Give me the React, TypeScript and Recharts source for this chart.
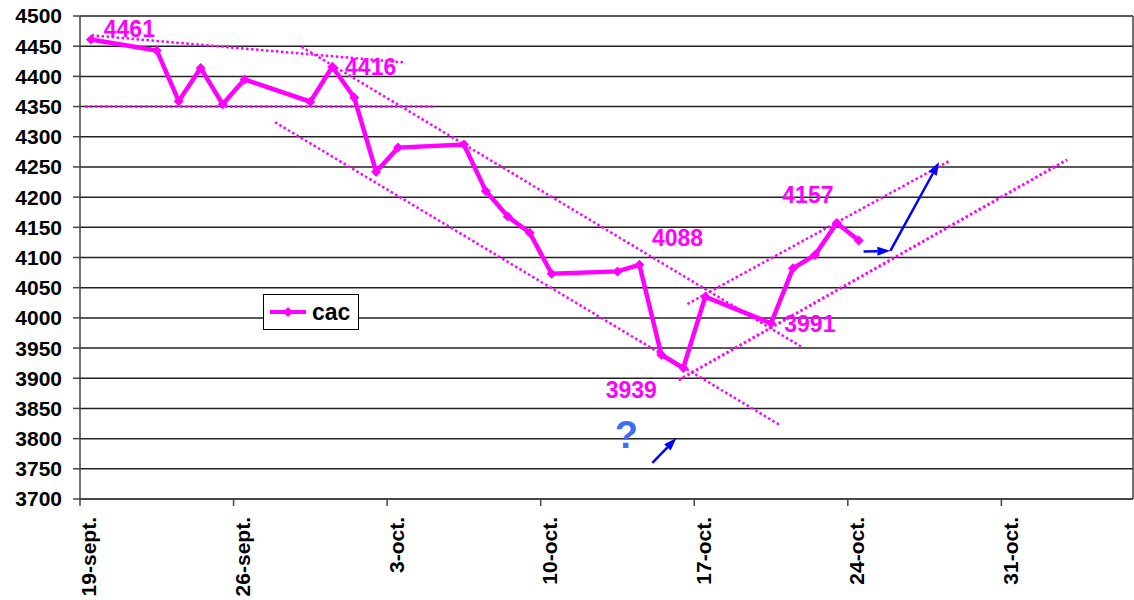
import { LineChart, Line, XAxis, YAxis, CartesianGrid, ReferenceLine, ReferenceDot, Legend } from 'recharts';

// trading days, counted from 19-sept.
const days = [0, 3, 4, 5, 6, 7, 10, 11, 12, 13, 14, 17, 18, 19, 20, 21, 24, 25, 26, 27, 28, 31, 32, 33, 34, 35];
const cac = [4461, 4443, 4359, 4414, 4354, 4395, 4358, 4416, 4365, 4242, 4282, 4287, 4210, 4168, 4141, 4073, 4077, 4088, 3939, 3917, 4035, 3991, 4082, 4104, 4157, 4128];

const tickDays = [0, 7, 14, 21, 28, 35, 42];
const tickLabels = ['19-sept.', '26-sept.', '3-oct.', '10-oct.', '17-oct.', '24-oct.', '31-oct.'];
const yTicks = [3700, 3750, 3800, 3850, 3900, 3950, 4000, 4050, 4100, 4150, 4200, 4250, 4300, 4350, 4400, 4450, 4500];

// hand drawn dotted trend lines: [day1, value1, day2, value2]
const trendLines = [
  [0.03, 4468, 14.3, 4423],
  [-0.27, 4350, 15.68, 4350],
  [9.6, 4449, 32.39, 3952],
  [8.39, 4324, 31.38, 3823],
  [27.19, 4023, 39.18, 4261],
  [26.79, 3897, 44.5, 4262],
];

// blue arrows
const arrows = [
  [25.59, 3760, 26.69, 3801],
  [35.22, 4110, 36.44, 4111],
  [36.44, 4111, 38.66, 4258],
];

// magenta value notes
const notes = ['4461', '4416', '4088', '4157', '3991', '3939'];
const noteDays = [1.75, 12.75, 26.74, 32.68, 32.77, 24.63];
const noteValues = [4479, 4416, 4132, 4203, 3990, 3881];

const data = days.map((d, i) => ({ d, cac: cac[i] }));

const FONT = '"Liberation Sans", Arial, sans-serif';
const MAGENTA = '#ff00ff';
const WIDTH = 1134;
const HEIGHT = 600;
const LEFT = 80;
const RIGHT = 1;
const HALF_DAY = (WIDTH - LEFT - RIGHT) / 48 / 2;

const XTick = (props: any) => {
  const { x, y, payload } = props;
  const label = tickLabels[tickDays.indexOf(payload.value)];
  const ty = y + 18;
  return (
    <g>
      <line x1={x - HALF_DAY} y1={y} x2={x - HALF_DAY} y2={y + 7} stroke="#444" strokeWidth={1.5} />
      <text
        x={x - 2}
        y={ty}
        transform={`rotate(-90 ${x - 2} ${ty})`}
        textAnchor="end"
        dominantBaseline="central"
        fontSize={21}
        fontWeight="bold"
        fontFamily={FONT}
        fill="#000"
      >
        {label}
      </text>
    </g>
  );
};

const Diamond = (props: any) => {
  const { cx, cy, index } = props;
  const s = 5;
  return (
    <polygon
      key={`dot-${index}`}
      points={`${cx},${cy - s} ${cx + s},${cy} ${cx},${cy + s} ${cx - s},${cy}`}
      fill={MAGENTA}
    />
  );
};

const ArrowShape = (props: any) => {
  const { x1, y1, x2, y2 } = props;
  const a = Math.atan2(y2 - y1, x2 - x1);
  const len = 13;
  const w = 4.5;
  const bx = x2 - len * Math.cos(a);
  const by = y2 - len * Math.sin(a);
  const p1 = `${bx + w * Math.sin(a)},${by - w * Math.cos(a)}`;
  const p2 = `${bx - w * Math.sin(a)},${by + w * Math.cos(a)}`;
  return (
    <g>
      <line x1={x1} y1={y1} x2={bx} y2={by} stroke="#0000ff" strokeWidth={2.5} />
      <polygon points={`${x2},${y2} ${p1} ${p2}`} fill="#0000ff" />
    </g>
  );
};

const LegendBox = () => (
  <div
    style={{
      width: 96,
      height: 36,
      border: '1px solid #000',
      background: '#fff',
      display: 'flex',
      alignItems: 'center',
      boxSizing: 'border-box',
      paddingLeft: 6,
    }}
  >
    <svg width={38} height={12}>
      <line x1={0} y1={6} x2={36} y2={6} stroke={MAGENTA} strokeWidth={4} />
      <polygon points="18,1 23,6 18,11 13,6" fill={MAGENTA} />
    </svg>
    <span style={{ fontFamily: FONT, fontWeight: 'bold', fontSize: 23, marginLeft: 4, color: '#000' }}>cac</span>
  </div>
);

export default function App() {
  return (
    <div style={{ position: 'absolute', left: 0, top: 0, background: '#fff' }}>
      <LineChart width={WIDTH} height={HEIGHT} data={data} margin={{ top: 16, right: RIGHT, left: 0, bottom: 0 }}>
        <CartesianGrid horizontal vertical={false} stroke="#222" strokeWidth={1.5} />
        <XAxis
          dataKey="d"
          type="number"
          domain={[-0.5, 47.5]}
          ticks={tickDays}
          interval={0}
          height={101}
          tickSize={0}
          tickMargin={0}
          tick={<XTick />}
          axisLine={{ stroke: '#444', strokeWidth: 1.5 }}
        />
        <YAxis
          domain={[3700, 4500]}
          ticks={yTicks}
          interval={0}
          width={LEFT}
          tickSize={7}
          tickMargin={11}
          tick={{ fill: '#000', fontSize: 21, fontWeight: 'bold', fontFamily: FONT }}
          axisLine={{ stroke: '#444', strokeWidth: 1.5 }}
          tickLine={{ stroke: '#444', strokeWidth: 1.5 }}
        />
        <ReferenceLine x={47.5} stroke="#444" strokeWidth={1.5} />
        {trendLines.map((t, i) => (
          <ReferenceLine
            key={`trend-${i}`}
            segment={[{ x: t[0], y: t[1] }, { x: t[2], y: t[3] }]}
            stroke={MAGENTA}
            strokeWidth={i === 5 ? 3 : 2.5}
            strokeDasharray="2.5 2.5"
            ifOverflow="visible"
          />
        ))}
        <Line
          type="linear"
          dataKey="cac"
          name="cac"
          stroke={MAGENTA}
          strokeWidth={4.5}
          dot={Diamond}
          activeDot={false}
          isAnimationActive={false}
        />
        {arrows.map((a, i) => (
          <ReferenceLine
            key={`arrow-${i}`}
            segment={[{ x: a[0], y: a[1] }, { x: a[2], y: a[3] }]}
            ifOverflow="visible"
            shape={ArrowShape}
          />
        ))}
        {notes.map((n, i) => (
          <ReferenceDot
            key={`note-${i}`}
            x={noteDays[i]}
            y={noteValues[i]}
            ifOverflow="visible"
            shape={(p: any) => (
              <text
                x={p.cx}
                y={p.cy}
                textAnchor="middle"
                dominantBaseline="central"
                fontSize={23}
                fontWeight="bold"
                fontFamily={FONT}
                fill={MAGENTA}
              >
                {n}
              </text>
            )}
          />
        ))}
        <ReferenceDot
          x={24.4}
          y={3806}
          ifOverflow="visible"
          shape={(p: any) => (
            <text
              x={p.cx}
              y={p.cy}
              textAnchor="middle"
              dominantBaseline="central"
              fontSize={38}
              fontWeight="bold"
              fontFamily={FONT}
              fill="#3d6ff0"
            >
              ?
            </text>
          )}
        />
        <Legend
          verticalAlign="middle"
          layout="horizontal"
          content={<LegendBox />}
          wrapperStyle={{ left: 263, top: 294, width: 96, height: 36 }}
        />
      </LineChart>
    </div>
  );
}
